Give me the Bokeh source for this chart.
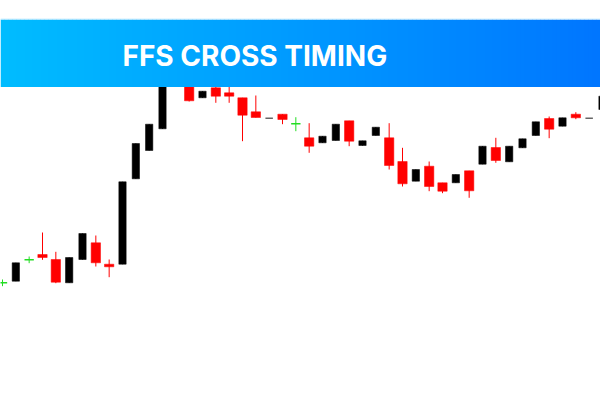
from bokeh.plotting import figure
from bokeh.models import ColumnDataSource, Range1d
from bokeh.core.properties import value
from bokeh.embed import file_html
from bokeh.resources import INLINE

# OHLC bars (price quotes)
opens = [1.10177, 1.10193, 1.10407, 1.10460, 1.10410, 1.10177, 1.10410, 1.10577, 1.10363, 1.10363,
         1.11217, 1.11500, 1.11717, 1.12380, 1.12220, 1.12027, 1.12127, 1.12077, 1.12027, 1.11887,
         1.11823, 1.11863, 1.11767, 1.11627, 1.11577, 1.11600, 1.11797, 1.11550, 1.11650, 1.11627,
         1.11390, 1.11193, 1.11343, 1.11177, 1.11177, 1.11297, 1.11363, 1.11530, 1.11387, 1.11527,
         1.11650, 1.11820, 1.11743, 1.11863, 1.11823, 1.11910]
closes = [1.10177, 1.10377, 1.10407, 1.10430, 1.10183, 1.10430, 1.10670, 1.10377, 1.10337, 1.11187,
          1.11570, 1.11763, 1.12300, 1.12220, 1.11997, 1.12093, 1.12043, 1.12043, 1.11853, 1.11830,
          1.11823, 1.11810, 1.11767, 1.11543, 1.11643, 1.11763, 1.11593, 1.11597, 1.11733, 1.11350,
          1.11167, 1.11310, 1.11140, 1.11093, 1.11260, 1.11097, 1.11543, 1.11400, 1.11543, 1.11617,
          1.11787, 1.11713, 1.11827, 1.11827, 1.11823, 1.12043]
highs = [1.10210, 1.10377, 1.10440, 1.10680, 1.10487, 1.10430, 1.10670, 1.10650, 1.10410, 1.11187,
         1.11570, 1.11763, 1.12300, 1.12450, 1.12260, 1.12093, 1.12180, 1.12160, 1.12027, 1.12050,
         1.11823, 1.11863, 1.11833, 1.11773, 1.11643, 1.11763, 1.11797, 1.11597, 1.11733, 1.11773,
         1.11527, 1.11310, 1.11390, 1.11177, 1.11260, 1.11297, 1.11543, 1.11627, 1.11543, 1.11617,
         1.11787, 1.11840, 1.11827, 1.11883, 1.11823, 1.12043]
lows = [1.10143, 1.10193, 1.10373, 1.10407, 1.10173, 1.10177, 1.10410, 1.10340, 1.10233, 1.10363,
        1.11217, 1.11500, 1.11717, 1.12160, 1.11990, 1.12027, 1.11977, 1.11977, 1.11593, 1.11830,
        1.11823, 1.11763, 1.11693, 1.11477, 1.11577, 1.11600, 1.11543, 1.11550, 1.11650, 1.11310,
        1.11140, 1.11193, 1.11093, 1.11073, 1.11177, 1.11027, 1.11363, 1.11377, 1.11387, 1.11527,
        1.11650, 1.11623, 1.11743, 1.11813, 1.11823, 1.11910]

TITLE = "FFS CROSS TIMING"

W, H = 600, 400
X0, X1 = -0.15, 44.85          # visible bar index span
Y0, Y1 = 1.0900, 1.1300        # visible price span

UP, DOWN, CROSS, FLAT = "#000000", "#FF0000", "#22DD22", "#666666"

idx = list(range(len(opens)))
up = dict(x=[], top=[], bottom=[])
dn = dict(x=[], top=[], bottom=[])
wick = dict(x=[], hi=[], lo=[], color=[])
cross = dict(x0=[], x1=[], y=[])
flat = dict(x0=[], x1=[], y=[])

for i, o, c, h, l in zip(idx, opens, closes, highs, lows):
    if c > o:
        up["x"].append(i); up["top"].append(c); up["bottom"].append(o)
        wick["x"].append(i); wick["hi"].append(h); wick["lo"].append(l); wick["color"].append(UP)
    elif c < o:
        dn["x"].append(i); dn["top"].append(o); dn["bottom"].append(c)
        wick["x"].append(i); wick["hi"].append(h); wick["lo"].append(l); wick["color"].append(DOWN)
    elif h > l:
        cross["x0"].append(i - 0.35); cross["x1"].append(i + 0.35); cross["y"].append(o)
        wick["x"].append(i); wick["hi"].append(h); wick["lo"].append(l); wick["color"].append(CROSS)
    else:
        flat["x0"].append(i - 0.28); flat["x1"].append(i + 0.28); flat["y"].append(o)

p = figure(width=W, height=H, output_backend="svg", toolbar_location=None,
           x_range=Range1d(X0, X1), y_range=Range1d(Y0, Y1),
           min_border=0, outline_line_color=None, background_fill_color="white",
           border_fill_color="white")
p.xaxis.visible = False
p.yaxis.visible = False
p.grid.visible = False

p.segment(x0="x", y0="hi", x1="x", y1="lo", color="color", line_width=1,
          source=ColumnDataSource(wick))
p.vbar(x="x", top="top", bottom="bottom", width=0.55, fill_color=UP, line_color=UP,
       line_width=0.5, source=ColumnDataSource(up))
p.vbar(x="x", top="top", bottom="bottom", width=0.7, fill_color=DOWN, line_color=DOWN,
       line_width=0.5, source=ColumnDataSource(dn))
p.segment(x0="x0", y0="y", x1="x1", y1="y", color=CROSS, line_width=1.5,
          source=ColumnDataSource(cross))
p.segment(x0="x0", y0="y", x1="x1", y1="y", color=FLAT, line_width=1.5,
          source=ColumnDataSource(flat))

# Header banner: horizontal gradient built from thin strips, placed in pixel terms
def px_x(px):
    return X0 + (X1 - X0) * px / W

def px_y(py):
    return Y1 - (Y1 - Y0) * py / H

c_left, c_right = (0, 188, 255), (0, 118, 255)
n = 150
strips = dict(left=[], right=[], color=[])
for k in range(n):
    t = k / (n - 1)
    r, g, b = (round(a + (bb - a) * t) for a, bb in zip(c_left, c_right))
    strips["left"].append(px_x(W * k / n))
    strips["right"].append(px_x(W * (k + 1) / n + 0.5))
    strips["color"].append("#%02x%02x%02x" % (r, g, b))
p.quad(left="left", right="right", top=px_y(19), bottom=px_y(86.5), fill_color="color",
       line_color=None, source=ColumnDataSource(strips))
p.segment(x0=[px_x(0)], x1=[px_x(W)], y0=[px_y(18.5)], y1=[px_y(18.5)],
          color="#cfeeff", line_width=1)

p.text(x=[px_x(122)], y=[px_y(55.5)], text=[TITLE], text_color="white",
       text_font=value("Inter"), text_font_style="bold", text_font_size="28px",
       text_baseline="middle", text_align="left")

open("out.html", "w").write(file_html(p, INLINE))
